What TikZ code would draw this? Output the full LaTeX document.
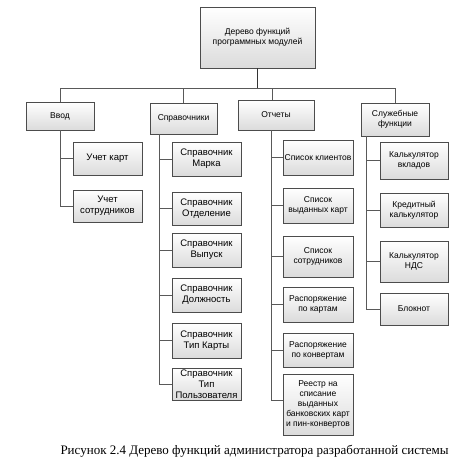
\documentclass[tikz,border=0pt]{standalone}
\usepackage{fontspec}
\setmainfont{Liberation Serif}
\newfontfamily\boxfont{Liberation Sans}
\usetikzlibrary{shadows}
\tikzset{
  box/.style={draw=black!70, line width=0.7pt, inner sep=1pt, align=center,
    top color=white, bottom color=black!14,
    drop shadow={shadow xshift=1.4pt, shadow yshift=-1.4pt, fill=black!70, opacity=1},
    font=\boxfont\fontsize{8.5}{10}\selectfont},
  bigtext/.style={font=\boxfont\fontsize{9.5}{11}\selectfont},
  link/.style={draw=black!65, line width=0.8pt}
}
\begin{document}
\begin{tikzpicture}[x=1pt,y=-1pt]
        \useasboundingbox (0,0) rectangle (459,460);
        \def\busy{88}

        % top level
        \node (root) at (257.5,37.5) [box, minimum width=115, minimum height=61] {Дерево функций\\программных модулей};
        \node (vvod) at (60,116) [box, minimum width=68, minimum height=28] {Ввод};
        \node (spr) at (183.5,118.5) [box, minimum width=67, minimum height=31] {Справочники};
        \node (otch) at (276,115) [box, minimum width=76, minimum height=30] {Отчеты};
        \node (sluzh) at (395,119.5) [box, minimum width=68, minimum height=33] {Служебные\\функции};

        % Ввод
        \node (uk) at (107.5,158.5) [box, bigtext, minimum width=69, minimum height=33] {Учет карт};
        \node (us) at (107.5,206) [box, bigtext, minimum width=69, minimum height=32] {Учет\\сотрудников};

        % Справочники
        \node (s1) at (206.5,159) [box, bigtext, minimum width=69, minimum height=34] {Справочник\\Марка};
        \node (s2) at (206.5,208.5) [box, bigtext, minimum width=69, minimum height=33] {Справочник\\Отделение};
        \node (s3) at (206.5,250) [box, bigtext, minimum width=69, minimum height=34] {Справочник\\Выпуск};
        \node (s4) at (206.5,295) [box, bigtext, minimum width=69, minimum height=34] {Справочник\\Должность};
        \node (s5) at (206.5,340.5) [box, bigtext, minimum width=69, minimum height=35] {Справочник\\Тип Карты};
        \node (s6) at (206.5,384) [box, bigtext, minimum width=69, minimum height=32] {Справочник\\Тип\\Пользователя};

        % Отчеты
        \node (o1) at (318,157.5) [box, minimum width=70, minimum height=35] {Список клиентов};
        \node (o2) at (318,205.5) [box, minimum width=70, minimum height=35] {Список\\выданных карт};
        \node (o3) at (318,256.5) [box, minimum width=70, minimum height=41] {Список\\сотрудников};
        \node (o4) at (318,304.5) [box, minimum width=70, minimum height=35] {Распоряжение\\по картам};
        \node (o5) at (318,350) [box, minimum width=70, minimum height=34] {Распоряжение\\по конвертам};
        \node (o6) at (318,404.5) [box, minimum width=70, minimum height=61] {Реестр на\\списание\\выданных\\банковских карт\\и пин-конвертов};

        % Служебные функции
        \node (k1) at (414,160.5) [box, minimum width=68, minimum height=37] {Калькулятор\\вкладов};
        \node (k2) at (414,210) [box, minimum width=68, minimum height=34] {Кредитный\\калькулятор};
        \node (k3) at (414,261.5) [box, minimum width=68, minimum height=41] {Калькулятор\\НДС};
        \node (k4) at (414,309) [box, minimum width=68, minimum height=32] {Блокнот};

        % connectors
        \coordinate (bus) at (257.5,\busy);
        \draw[link, draw=black!80] (root.south) -- (bus);
        \draw[link] (vvod.north) |- (bus);
        \draw[link] (spr.north) |- (bus);
        \draw[link] ([xshift=-4pt]otch.north) |- (bus);
        \draw[link] (sluzh.north) |- (bus);

        \coordinate (vvodT) at (vvod.south);
        \draw[link] (vvodT) |- (us.west);
        \draw[link] (uk.west) -- (uk.west -| vvodT);

        \coordinate (sprT) at ([xshift=10pt]spr.south west);
        \draw[link] (sprT) |- (s6.west);
        \foreach \n in {s1,s2,s3,s4,s5}
          \draw[link] (\n.west) -- (\n.west -| sprT);

        \coordinate (otchT) at ([xshift=-5pt]otch.south);
        \draw[link] (otchT) |- ([yshift=4pt]o6.west);
        \foreach \n in {o1,o2,o3,o4,o5}
          \draw[link] (\n.west) -- (\n.west -| otchT);

        \coordinate (sluzhT) at ([xshift=6pt]sluzh.south west);
        \draw[link] (sluzhT) |- (k4.west);
        \foreach \n in {k1,k2,k3}
          \draw[link] (\n.west) -- (\n.west -| sluzhT);

        \node (caption) at (254.5,451) [font=\fontsize{13}{15}\selectfont] {Рисунок 2.4 Дерево функций администратора разработанной системы};
      \end{tikzpicture}
\end{document}
